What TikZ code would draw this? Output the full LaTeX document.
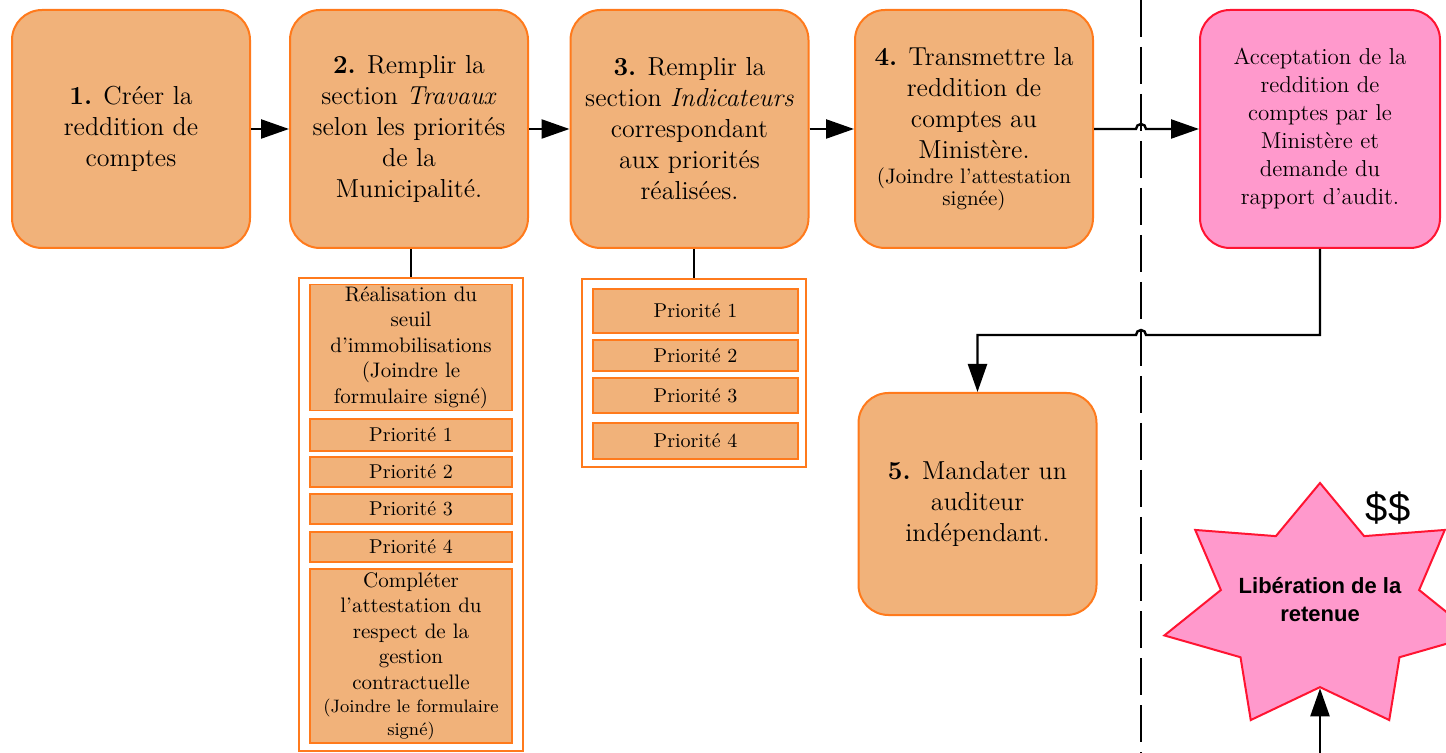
\documentclass[tikz,border=0pt]{standalone}
\usepackage{fontspec}
\newfontfamily\arialfont{Liberation Sans}
\usetikzlibrary{arrows.meta,positioning,shapes.geometric}

\definecolor{boxfill}{RGB}{241,178,122}
\definecolor{boxline}{RGB}{255,122,28}
\definecolor{pinkfill}{RGB}{255,153,204}
\definecolor{pinkline}{RGB}{255,20,50}

\begin{document}
\begin{tikzpicture}[
    x=0.5pt, y=-0.5pt,
    stepbox/.style={rectangle, rounded corners=15pt, draw=boxline, line width=1pt, fill=boxfill, minimum width=119pt, minimum height=119pt, align=center, font=\fontsize{13}{15.5}\selectfont},
    okbox/.style={stepbox, draw=pinkline, fill=pinkfill, minimum width=120pt, font=\fontsize{11.5}{14}\selectfont},
    listframe/.style={rectangle, draw=boxline, line width=1pt, fill=white, minimum width=112pt, inner sep=0pt},
    subbox/.style={rectangle, draw=boxline, line width=0.8pt, fill=boxfill, minimum width=101pt, inner sep=1pt, align=center, font=\fontsize{10.5}{12.75}\selectfont},
    prio/.style={subbox, font=\fontsize{10}{12}\selectfont},
    arrow/.style={-{Triangle[length=14pt, width=9.5pt]}, line width=1.2pt},
    link/.style={line width=1.2pt},
    divider/.style={line width=0.8pt, dash pattern=on 18.5pt off 5pt}
]
\useasboundingbox (0,0) rectangle (1446,753);

% Divider
\coordinate (divtop) at (1141,0);
\coordinate (divbot) at (1141,753);
\draw[divider] (divtop) -- (divbot);

% Steps
\node[stepbox] (create) at (131,129) {\textbf{1.} Créer la\\reddition de\\comptes};
\node[stepbox] (travaux) at (409,129) {\textbf{2.} Remplir la\\section \textit{Travaux}\\selon les priorités\\de la\\Municipalité.};
\node[stepbox] (indic) at (689.5,129) {\textbf{3.} Remplir la\\section \textit{Indicateurs}\\correspondant\\aux priorités\\réalisées.};
\node[stepbox] (send) at (974,129) {\textbf{4.} Transmettre la\\reddition de\\comptes au\\Ministère.\\[-3pt]{\fontsize{10.5}{11}\selectfont (Joindre l’attestation}\\[-4.5pt]{\fontsize{10.5}{11}\selectfont signée)}};
\node[okbox] (accept) at (1320,129) {Acceptation de la\\reddition de\\comptes par le\\Ministère et\\demande du\\rapport d’audit.};
\node[stepbox, minimum height=111pt] (auditor) at (977.5,504) {\textbf{5.} Mandater un\\auditeur\\indépendant.};

% Travaux list
\node[listframe, minimum height=236.5pt] (frame2) at (411,514.5) {};
\node[subbox, minimum height=61.5pt] (seuil) at (411,347.5) {Réalisation du\\seuil\\d’immobilisations\\(Joindre le\\formulaire signé)};
\foreach \n/\y/\h in {1/435/16, 2/472/15, 3/509/15, 4/547/15} {
    \node[prio, minimum height=\h pt] (twork\n) at (411,\y) {Priorité \n};
}
\node[subbox, minimum height=87pt] (attest) at (411,656) {Compléter\\l’attestation du\\respect de la\\gestion\\contractuelle\\[-1pt]{\fontsize{9}{11}\selectfont (Joindre le formulaire}\\[-1.5pt]{\fontsize{9}{11}\selectfont signé)}};

% Indicateurs list
\node[listframe, minimum height=94pt] (frame3) at (694,373) {};
\foreach \n/\y/\h in {1/311/22, 2/355.5/15.5, 3/395.5/17.5, 4/441/18} {
    \node[prio, minimum width=102.5pt, minimum height=\h pt] (tind\n) at (695.5,\y) {Priorité \n};
}

% Release
\node[star, star points=7, star point ratio=1.57, minimum size=124.7pt, inner sep=0pt, draw=pinkline, fill=pinkfill, line width=1pt, xscale=1.28] (star) at (1320,607.7) {};
\node[font=\arialfont\bfseries\fontsize{11}{14}\selectfont, align=center] (starlabel) at (1320,600) {Libération de la\\retenue};
\node[font=\arialfont\fontsize{20}{24}\selectfont] (money) at (1388,508) {\$\$};

% Connectors
\draw[arrow] (create) -- (travaux);
\draw[arrow] (travaux) -- (indic);
\draw[arrow] (indic) -- (send);
\coordinate (hop1) at (1141,129);
\draw[arrow] (send.east) -- ([xshift=-2.5pt]hop1) arc[start angle=180, end angle=0, radius=2.5pt] -- (accept.west);
\coordinate (hop2) at (1141,335);
\draw[arrow] (accept.south) |- ([xshift=2.5pt]hop2) arc[start angle=0, end angle=180, radius=2.5pt] -- (auditor.north |- hop2) -- (auditor.north);
\draw[link] (frame2.north |- travaux.south) -- (frame2.north);
\draw[link] (frame3.north |- indic.south) -- (frame3.north);
\coordinate (release) at (1320,753);
\draw[arrow] (release) -- (star.south);

\end{tikzpicture}
\end{document}
